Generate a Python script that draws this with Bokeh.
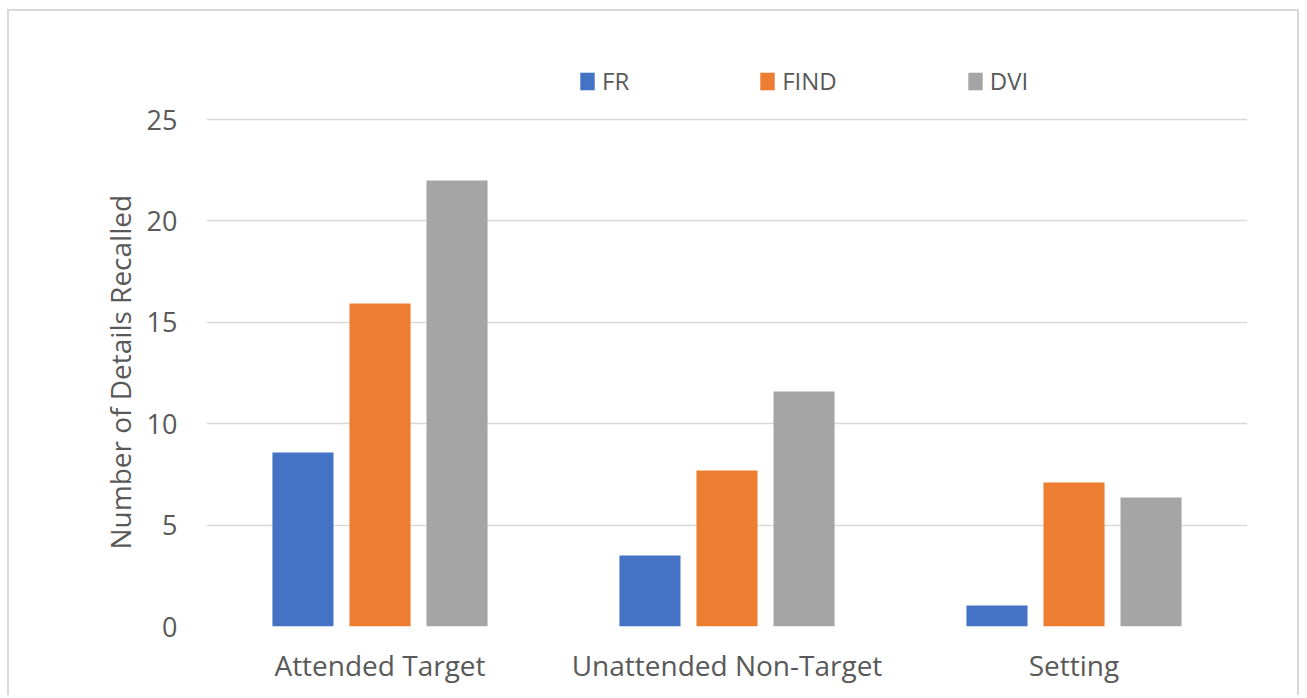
from bokeh.plotting import figure
from bokeh.models import FactorRange, Range1d, Legend, LegendItem, FixedTicker, ColumnDataSource, Title
from bokeh.transform import dodge
from bokeh.embed import file_html
from bokeh.resources import INLINE

categories = ["Attended Target", "Unattended Non-Target", "Setting"]
series = ["FR", "FIND", "DVI"]
fr = [8.58, 3.50, 1.04]
find = [15.93, 7.69, 7.10]
dvi = [21.99, 11.59, 6.36]
colors = ["#4472C4", "#ED7D31", "#A5A5A5"]
y_ticks = [0, 5, 10, 15, 20, 25]
y_label = "Number of Details Recalled"

FONT = "Open Sans"
TXT = "#595959"

source = ColumnDataSource(data=dict(cat=categories, FR=fr, FIND=find, DVI=dvi))

p = figure(
    x_range=FactorRange(*categories, range_padding=0),
    y_range=Range1d(0, 25 * 575 / 507),
    frame_width=1041, frame_height=575,
    min_border_left=197, min_border_right=50,
    min_border_top=40, min_border_bottom=69,
    output_backend="svg", toolbar_location=None,
)
p.styles = {"border": "2px solid #d9d9d9", "border-bottom": "none",
            "margin-left": "7px", "margin-top": "9px"}

offsets = [-0.222, 0.0, 0.222]
renderers = []
for name, off, col in zip(series, offsets, colors):
    r = p.vbar(x=dodge("cat", off, range=p.x_range), top=name, width=0.176,
               source=source, fill_color=col, line_color=None)
    renderers.append(r)

legend = Legend(
    items=[LegendItem(label=s, renderers=[r]) for s, r in zip(series, renderers)],
    orientation="horizontal", location=(372, 529),
    glyph_width=18, glyph_height=22, label_standoff=6, spacing=129,
    padding=0, margin=0, border_line_color=None, background_fill_alpha=0,
    label_text_font=FONT, label_text_font_size="24px", label_text_color=TXT,
)
p.add_layout(legend, "center")

p.outline_line_color = None
p.xgrid.grid_line_color = None
p.ygrid.grid_line_color = "#d9d9d9"
p.ygrid.grid_line_width = 1.5

p.yaxis.ticker = FixedTicker(ticks=y_ticks)
for ax in (p.xaxis[0], p.yaxis[0]):
    ax.axis_line_color = None
    ax.major_tick_line_color = None
    ax.minor_tick_line_color = None
    ax.major_label_text_font = FONT
    ax.major_label_text_color = TXT
p.yaxis.major_label_text_font_size = "27px"
p.xaxis.major_label_text_font_size = "28px"
p.yaxis.major_label_standoff = 23
p.xaxis.major_label_standoff = 13
p.xaxis.group_text_font_size = "0px"

# y-axis title as a side-panel title, positioned along the 0-25 span
p.add_layout(Title(
    text=y_label, align="left", offset=77, standoff=10,
    text_font=FONT, text_font_size="28px", text_font_style="normal",
    text_color=TXT,
), "left")

open("out.html", "w").write(file_html(p, INLINE))
